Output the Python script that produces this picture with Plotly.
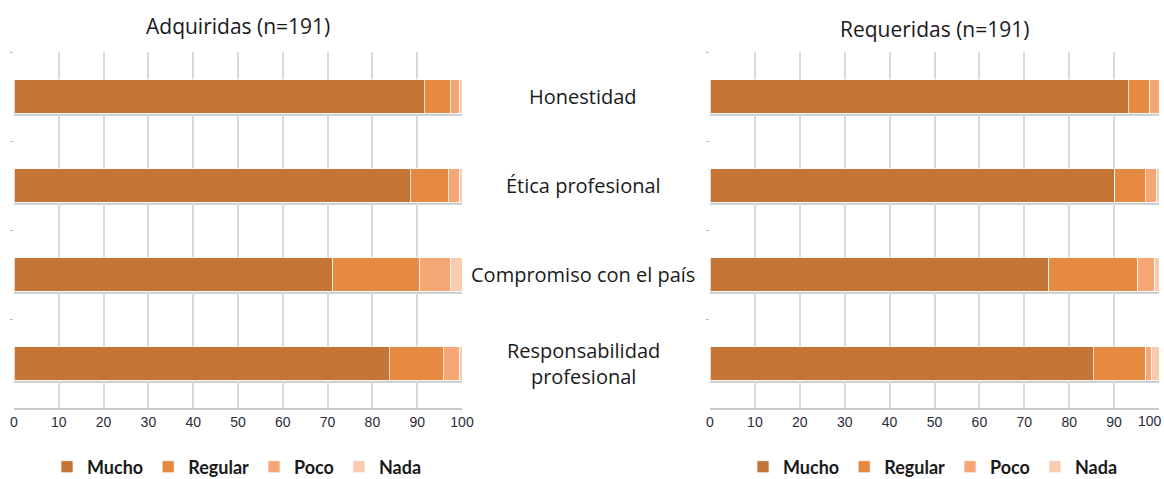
import plotly.graph_objects as go

categories = ["Honestidad", "Ética profesional", "Compromiso con el país", "Responsabilidad profesional"]
category_labels = ["Honestidad", "Ética profesional", "Compromiso con el país", "Responsabilidad<br>profesional"]
levels = ["Mucho", "Regular", "Poco", "Nada"]

adq_mucho = [91.6, 88.5, 71.2, 83.8]
adq_regular = [5.8, 8.4, 19.4, 12.0]
adq_poco = [2.1, 2.6, 6.8, 3.7]
adq_nada = [0.5, 0.5, 2.6, 0.5]

req_mucho = [93.2, 90.1, 75.4, 85.3]
req_regular = [4.7, 6.8, 19.9, 11.7]
req_poco = [2.1, 2.6, 3.7, 1.4]
req_nada = [0.0, 0.5, 1.0, 1.6]

ticks = [0, 10, 20, 30, 40, 50, 60, 70, 80, 90, 100]
tick_labels = [str(t) for t in ticks]
title_left = "Adquiridas (n=191)"
title_right = "Requeridas (n=191)"

colors = ["#C47535", "#E68A42", "#F4A675", "#F9CCB0"]

W, H = 1164, 479
fig = go.Figure()

sets = [
    ("x", "y", "legend", [adq_mucho, adq_regular, adq_poco, adq_nada]),
    ("x2", "y2", "legend2", [req_mucho, req_regular, req_poco, req_nada]),
]
for xa, ya, lg, series in sets:
    for name, vals, col in zip(levels, series, colors):
        fig.add_trace(go.Bar(
            y=categories, x=vals, name=name, orientation="h",
            xaxis=xa, yaxis=ya, legend=lg,
            marker=dict(color=col, line=dict(color="rgba(255,255,255,0.7)", width=1)),
            width=0.38, showlegend=True,
        ))

fig.update_layout(barmode="stack")

ydom = [1 - 408 / H, 1 - 52 / H]
xdom1 = [14 / W, 462 / W]
xdom2 = [710 / W, 1159 / W]

tickfont = dict(family="Liberation Sans, Arial", size=14, color="#2B2B3B")
xcommon = dict(range=[0, 100], tickvals=ticks, showgrid=True, gridcolor="#D9D9D9", gridwidth=1.5,
               zeroline=False, showline=True, linecolor="#C8C8C8", linewidth=2,
               tickfont=tickfont, ticks="", fixedrange=True, automargin=False)
ycommon = dict(type="category", categoryorder="array", categoryarray=categories,
               range=[3.5, -0.5], showticklabels=False, showgrid=False,
               ticks="outside", tickson="boundaries", ticklen=3, tickcolor="#BFBFBF",
               showline=False, zeroline=False, automargin=False, fixedrange=True)

# right axis: last label placed as an annotation so it stays inside the page
right_labels = tick_labels[:-1] + [""]

fig.update_layout(
    xaxis=dict(domain=xdom1, anchor="y", ticktext=tick_labels, **xcommon),
    yaxis=dict(domain=ydom, anchor="x", **ycommon),
    xaxis2=dict(domain=xdom2, anchor="y2", ticktext=right_labels, **xcommon),
    yaxis2=dict(domain=ydom, anchor="x2", **ycommon),
)

# bar floor shadow lines (3D effect)
shapes = []
for xa, ya in [("x", "y"), ("x2", "y2")]:
    for i in range(len(categories)):
        shapes.append(dict(type="line", xref=f"{xa} domain", yref=ya, x0=0, x1=1,
                           y0=i + 0.205, y1=i + 0.205, line=dict(color="#C8C8C8", width=2), layer="below"))
fig.update_layout(shapes=shapes)

annotations = []
for i, lab in enumerate(category_labels):
    annotations.append(dict(text=lab, x=583 / W, xref="paper", y=categories[i], yref="y",
                            showarrow=False, xanchor="center", yanchor="middle",
                            font=dict(family="Open Sans", size=20, color="#1A1A1A")))
annotations.append(dict(text=title_left, x=(xdom1[0] + xdom1[1]) / 2, xref="paper", y=1 - 26 / H, yref="paper",
                        showarrow=False, xanchor="center", yanchor="middle",
                        font=dict(family="Open Sans", size=21, color="#1A1A1A")))
annotations.append(dict(text=title_right, x=(xdom2[0] + xdom2[1]) / 2, xref="paper", y=1 - 29 / H, yref="paper",
                        showarrow=False, xanchor="center", yanchor="middle",
                        font=dict(family="Open Sans", size=21, color="#1A1A1A")))
annotations.append(dict(text=tick_labels[-1], x=1.0, xref="paper", y=1 - 421 / H, yref="paper",
                        showarrow=False, xanchor="right", yanchor="middle", xshift=-1,
                        font=tickfont, borderpad=0))
fig.update_layout(annotations=annotations)

legend_common = dict(orientation="h", yanchor="middle", xanchor="center",
                     font=dict(family="Lato", size=18, color="#1A1A1A", weight="bold"),
                     itemwidth=30, traceorder="normal", bgcolor="rgba(0,0,0,0)")
fig.update_layout(
    legend=dict(x=237 / W, y=1 - 467 / H, **legend_common),
    legend2=dict(x=933 / W, y=1 - 467 / H, **legend_common),
)

fig.update_layout(width=W, height=H, margin=dict(l=0, r=0, t=0, b=0, autoexpand=False),
                  paper_bgcolor="white", plot_bgcolor="white", bargap=0.62)

fig.write_html("out.html", config={"displayModeBar": False},
               post_script="document.body.style.margin='0';document.body.style.padding='0';document.body.style.overflow='hidden';")
